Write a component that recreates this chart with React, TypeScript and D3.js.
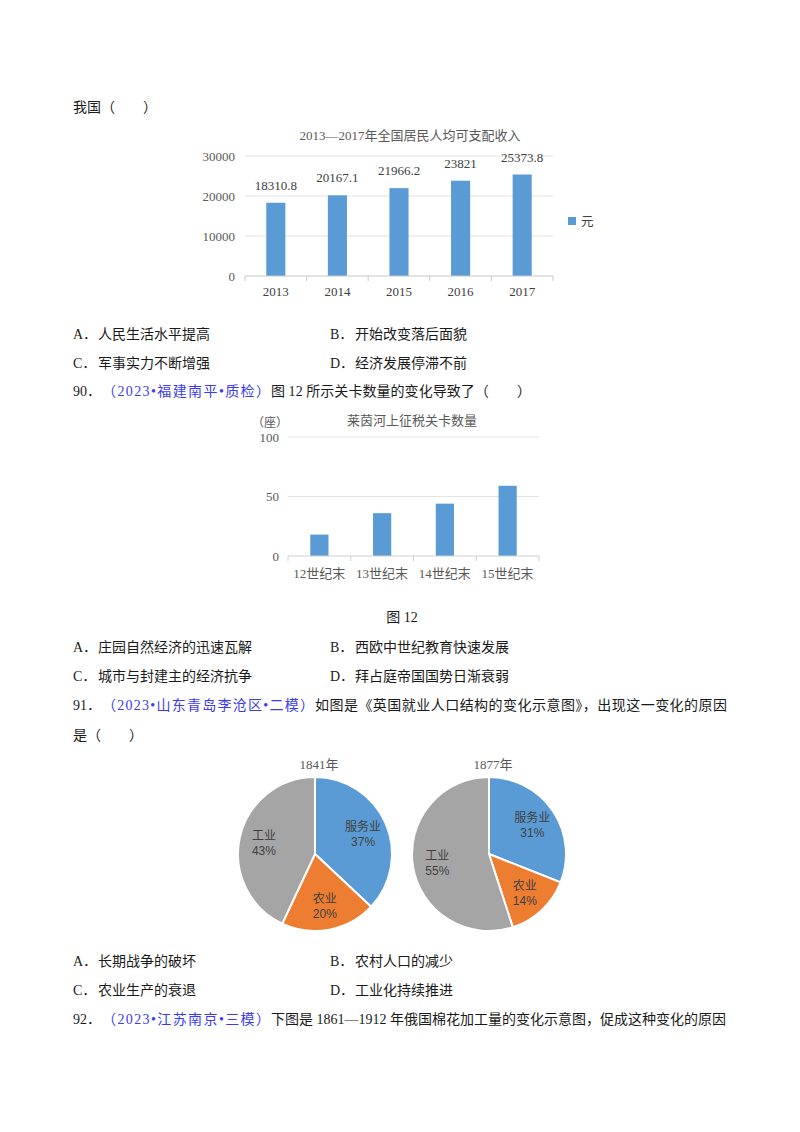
import React from "react";
import * as d3 from "d3";

// ---------- data ----------
const incomeYears = ["2013", "2014", "2015", "2016", "2017"];
const incomeValues = [18310.8, 20167.1, 21966.2, 23821, 25373.8];
const incomeLabels = ["18310.8", "20167.1", "21966.2", "23821", "25373.8"];
const incomeTicks = [0, 10000, 20000, 30000];

const tollCats = ["12世纪末", "13世纪末", "14世纪末", "15世纪末"];
const tollValues = [18, 36, 44, 59];
const tollTicks = [0, 50, 100];

const pieCats = ["服务业", "农业", "工业"];
const pie1841 = [37, 20, 43];
const pie1877 = [31, 14, 55];
const pieColors = ["#5B9BD5", "#ED7D31", "#A5A5A5"];

const SERIF = "'Liberation Serif', 'Noto Sans CJK SC', serif";
const SANS = "'Noto Sans CJK SC', sans-serif";
const LSANS = "'Liberation Sans', Arial, sans-serif";
const BODY = "'Liberation Serif', 'Noto Sans CJK SC', serif";
const BLUE = "#3a3af0";
const INK = "#1a1a1a";

function OptionLine({ y, a, b, la, lb }: { y: number; a: string; b: string; la: string; lb: string }) {
  return (
    <g fontFamily={BODY} fontSize={14} fill={INK}>
      <text x={73} y={y}>{la}</text>
      <text x={98} y={y}>{a}</text>
      <text x={330} y={y}>{lb}</text>
      <text x={355} y={y}>{b}</text>
    </g>
  );
}

function QLine({ y, num, blue, blueStart, blueEnd, rest, restEnd }: any) {
  return (
    <g fontFamily={BODY} fontSize={14} fill={INK}>
      <text x={73} y={y}>{num}</text>
      <text x={blueStart} y={y} fill={BLUE} textLength={blueEnd - blueStart} lengthAdjust="spacing">{blue}</text>
      <text x={blueEnd + 1} y={y} textLength={restEnd - blueEnd - 1} lengthAdjust="spacing">{rest}</text>
    </g>
  );
}

function IncomeChart() {
  const x = d3.scaleBand<string>().domain(incomeYears).range([245, 553]).paddingInner(0.69).paddingOuter(0.345);
  const y = d3.scaleLinear().domain([0, 30000]).range([276, 156]);
  const step = x.step();
  const x0 = 245;
  return (
    <g>
      <text x={410} y={139.5} textAnchor="middle" fontFamily={SERIF} fontSize={13} fill="#595959">
        2013—2017年全国居民人均可支配收入
      </text>
      {incomeTicks.map((t) => (
        <g key={t}>
          {t > 0 && <line x1={245} x2={553} y1={y(t)} y2={y(t)} stroke="#e3e3e3" strokeWidth={1} />}
          <text x={235} y={y(t) + 4.5} textAnchor="end" fontFamily={SERIF} fontSize={13} fill="#595959">{t}</text>
        </g>
      ))}
      {incomeYears.map((yr, i) => (
        <g key={yr}>
          <rect x={x(yr)} y={y(incomeValues[i])} width={x.bandwidth()} height={y(0) - y(incomeValues[i])} fill="#5B9BD5" />
          <text x={(x(yr) as number) + x.bandwidth() / 2} y={y(incomeValues[i]) - 13} textAnchor="middle" fontFamily={SERIF} fontSize={13} fill="#404040">
            {incomeLabels[i]}
          </text>
          <text x={(x(yr) as number) + x.bandwidth() / 2} y={296} textAnchor="middle" fontFamily={SERIF} fontSize={13} fill="#404040">
            {yr}
          </text>
        </g>
      ))}
      <line x1={245} x2={553} y1={y(0)} y2={y(0)} stroke="#c8c8c8" />
      {d3.range(incomeYears.length + 1).map((i) => (
        <line key={i} x1={x0 + i * step} x2={x0 + i * step} y1={y(0)} y2={y(0) + 5} stroke="#c8c8c8" />
      ))}
      <rect x={568} y={217} width={8} height={8} fill="#5B9BD5" />
      <text x={581} y={225.5} fontFamily={SANS} fontSize={12.5} fill="#404040">元</text>
    </g>
  );
}

function TollChart() {
  const x = d3.scaleBand<string>().domain(tollCats).range([288, 539]).paddingInner(0.71).paddingOuter(0.355);
  const y = d3.scaleLinear().domain([0, 100]).range([556, 437]);
  const step = x.step();
  return (
    <g>
      <text x={252} y={426.5} fontFamily={SANS} fontSize={12} fill="#595959">（座）</text>
      <text x={412} y={424.5} textAnchor="middle" fontFamily={SANS} fontSize={13} fill="#595959">莱茵河上征税关卡数量</text>
      {tollTicks.map((t) => (
        <g key={t}>
          {t > 0 && <line x1={288} x2={539} y1={y(t)} y2={y(t)} stroke="#e3e3e3" />}
          <text x={279} y={y(t) + 4.5} textAnchor="end" fontFamily={SERIF} fontSize={13} fill="#595959">{t}</text>
        </g>
      ))}
      {tollCats.map((c, i) => (
        <g key={c}>
          <rect x={x(c)} y={y(tollValues[i])} width={x.bandwidth()} height={y(0) - y(tollValues[i])} fill="#5B9BD5" />
          <text x={(x(c) as number) + x.bandwidth() / 2} y={577.5} textAnchor="middle" fontFamily={SERIF} fontSize={13} fill="#595959">{c}</text>
        </g>
      ))}
      <line x1={288} x2={539} y1={y(0)} y2={y(0)} stroke="#d0d0d0" />
      {d3.range(tollCats.length + 1).map((i) => (
        <line key={i} x1={288 + i * step} x2={288 + i * step} y1={y(0)} y2={y(0) + 5} stroke="#d0d0d0" />
      ))}
    </g>
  );
}

function Pie({ cx, cy, values, title }: { cx: number; cy: number; values: number[]; title: string }) {
  const r = 77;
  const arcs = d3.pie<number>().sort(null).value((d) => d)(values);
  const arc = d3.arc<d3.PieArcDatum<number>>().innerRadius(0).outerRadius(r);
  const labelArc = d3.arc<d3.PieArcDatum<number>>().innerRadius(r * 0.68).outerRadius(r * 0.68);
  return (
    <g>
      <text x={cx + 4} y={768.5} textAnchor="middle" fontFamily={SERIF} fontSize={13} fill="#595959">{title}</text>
      <g transform={`translate(${cx},${cy})`}>
        {arcs.map((a, i) => (
          <path key={i} d={arc(a) as string} fill={pieColors[i]} stroke="#fff" strokeWidth={2} />
        ))}
        {arcs.map((a, i) => {
          const [lx, ly] = labelArc.centroid(a);
          return (
            <g key={"l" + i} fill="#404040" textAnchor="middle">
              <text x={lx} y={ly - 2.5} fontFamily={SANS} fontSize={12}>{pieCats[i]}</text>
              <text x={lx} y={ly + 12.5} fontFamily={LSANS} fontSize={12}>{values[i] + "%"}</text>
            </g>
          );
        })}
      </g>
    </g>
  );
}

export default function App() {
  return (
    <svg width={800} height={1132} style={{ position: "absolute", left: 0, top: 0, background: "#fff" }}>
      <rect x={0} y={0} width={800} height={1132} fill="#fff" />
      <text x={73} y={112} fontFamily={BODY} fontSize={14} fill={INK}>我国（　　）</text>
      <IncomeChart />
      <OptionLine y={339} la="A．" a="人民生活水平提高" lb="B．" b="开始改变落后面貌" />
      <OptionLine y={368} la="C．" a="军事实力不断增强" lb="D．" b="经济发展停滞不前" />
      <QLine y={396} num="90．" blue="（2023•福建南平•质检）" blueStart={102} blueEnd={270} rest="图 12 所示关卡数量的变化导致了（　　）" restEnd={531} />
      <TollChart />
      <text x={402} y={622} textAnchor="middle" fontFamily={BODY} fontSize={14} fill={INK}>图 12</text>
      <OptionLine y={652} la="A．" a="庄园自然经济的迅速瓦解" lb="B．" b="西欧中世纪教育快速发展" />
      <OptionLine y={681} la="C．" a="城市与封建主的经济抗争" lb="D．" b="拜占庭帝国国势日渐衰弱" />
      <QLine y={710} num="91．" blue="（2023•山东青岛李沧区•二模）" blueStart={102} blueEnd={314} rest="如图是《英国就业人口结构的变化示意图》，出现这一变化的原因" restEnd={727} />
      <text x={73} y={740} fontFamily={BODY} fontSize={14} fill={INK}>是（　　）</text>
      <Pie cx={315} cy={854} values={pie1841} title="1841年" />
      <Pie cx={489} cy={854} values={pie1877} title="1877年" />
      <OptionLine y={966} la="A．" a="长期战争的破坏" lb="B．" b="农村人口的减少" />
      <OptionLine y={995} la="C．" a="农业生产的衰退" lb="D．" b="工业化持续推进" />
      <QLine y={1024} num="92．" blue="（2023•江苏南京•三模）" blueStart={102} blueEnd={270} rest="下图是 1861—1912 年俄国棉花加工量的变化示意图，促成这种变化的原因" restEnd={726} />
    </svg>
  );
}
